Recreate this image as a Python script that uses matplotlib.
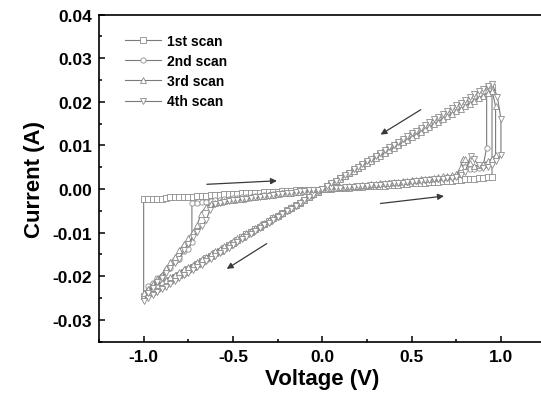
import matplotlib
matplotlib.use("Agg")
import matplotlib.pyplot as plt
from matplotlib.ticker import MultipleLocator, FormatStrFormatter

plt.rcParams['font.family'] = ['Liberation Sans', 'DejaVu Sans']
plt.rcParams['font.weight'] = 'bold'

# ---- shared voltage grids (V) ----
V_POS = [0.000, 0.025, 0.050, 0.075, 0.100, 0.125, 0.150, 0.175, 0.200, 0.225,
         0.250, 0.275, 0.300, 0.325, 0.350, 0.375, 0.400, 0.425, 0.450, 0.475,
         0.500, 0.525, 0.550, 0.575, 0.600, 0.625, 0.650, 0.675, 0.700, 0.725,
         0.750]
V_LRS = [0.900, 0.875, 0.850, 0.825, 0.800, 0.775, 0.750, 0.725, 0.700, 0.675,
         0.650, 0.625, 0.600, 0.575, 0.550, 0.525, 0.500, 0.475, 0.450, 0.425,
         0.400, 0.375, 0.350, 0.325, 0.300, 0.275, 0.250, 0.225, 0.200, 0.175,
         0.150, 0.125, 0.100, 0.075, 0.050, 0.025, 0.000,
         -0.025, -0.050, -0.075, -0.100, -0.125, -0.150, -0.175, -0.200, -0.225,
         -0.250, -0.275, -0.300, -0.325, -0.350, -0.375, -0.400, -0.425, -0.450,
         -0.475, -0.500, -0.525, -0.550, -0.575, -0.600, -0.625, -0.650, -0.675,
         -0.700, -0.725, -0.750, -0.775, -0.800, -0.825, -0.850, -0.875, -0.900,
         -0.925, -0.950, -0.975, -1.000]
V_NEG = [-0.550, -0.525, -0.500, -0.475, -0.450, -0.425, -0.400, -0.375, -0.350,
         -0.325, -0.300, -0.275, -0.250, -0.225, -0.200, -0.175, -0.150, -0.125,
         -0.100, -0.075, -0.050, -0.025, 0.000]

labels = ["1st scan", "2nd scan", "3rd scan", "4th scan"]

# ---- scan 1 ----
i_pos1 = [0.0000, 0.0001, 0.0001, 0.0002, 0.0002, 0.0003, 0.0003, 0.0004,
          0.0004, 0.0005, 0.0006, 0.0006, 0.0007, 0.0007, 0.0008, 0.0009,
          0.0010, 0.0010, 0.0011, 0.0012, 0.0013, 0.0013, 0.0014, 0.0015,
          0.0016, 0.0016, 0.0017, 0.0018, 0.0019, 0.0019, 0.0020]
set_v1 = [0.775, 0.800, 0.825, 0.850, 0.875, 0.900, 0.925, 0.950, 0.950, 0.925]
set_i1 = [0.0021, 0.0022, 0.0023, 0.0024, 0.0025, 0.0026, 0.0027, 0.0028,
          0.0233, 0.0227]
i_lrs1 = [0.0221, 0.0214, 0.0208, 0.0202, 0.0196, 0.0190, 0.0184, 0.0178,
          0.0172, 0.0165, 0.0159, 0.0153, 0.0147, 0.0141, 0.0135, 0.0129,
          0.0123, 0.0116, 0.0110, 0.0104, 0.0098, 0.0092, 0.0086, 0.0080,
          0.0074, 0.0067, 0.0061, 0.0055, 0.0049, 0.0043, 0.0037, 0.0031,
          0.0025, 0.0018, 0.0012, 0.0006, 0.0000,
          -0.0006, -0.0012, -0.0018, -0.0025, -0.0031, -0.0037, -0.0043,
          -0.0049, -0.0055, -0.0061, -0.0067, -0.0074, -0.0080, -0.0086,
          -0.0092, -0.0098, -0.0104, -0.0110, -0.0116, -0.0123, -0.0129,
          -0.0135, -0.0141, -0.0147, -0.0153, -0.0159, -0.0165, -0.0172,
          -0.0178, -0.0184, -0.0190, -0.0196, -0.0202, -0.0208, -0.0214,
          -0.0221, -0.0227, -0.0233, -0.0239, -0.0245]
reset_v1 = [-1.000, -0.975, -0.950, -0.925, -0.900, -0.875, -0.850, -0.825,
            -0.800, -0.775, -0.750, -0.725, -0.700, -0.675, -0.650, -0.625,
            -0.600, -0.575]
reset_i1 = [-0.0023, -0.0023, -0.0023, -0.0022, -0.0022, -0.0021, -0.0019,
            -0.0019, -0.0018, -0.0018, -0.0017, -0.0017, -0.0016, -0.0015,
            -0.0015, -0.0014, -0.0014, -0.0013]
i_neg1 = [-0.0012, -0.0012, -0.0011, -0.0011, -0.0010, -0.0010, -0.0009,
          -0.0009, -0.0008, -0.0007, -0.0007, -0.0006, -0.0006, -0.0005,
          -0.0004, -0.0004, -0.0003, -0.0003, -0.0002, -0.0002, -0.0001,
          -0.0001, 0.0000]

# ---- scan 2 ----
i_pos2 = [0.0000, 0.0001, 0.0002, 0.0003, 0.0003, 0.0004, 0.0005, 0.0006,
          0.0007, 0.0008, 0.0008, 0.0009, 0.0010, 0.0011, 0.0012, 0.0013,
          0.0014, 0.0015, 0.0016, 0.0017, 0.0018, 0.0019, 0.0020, 0.0021,
          0.0022, 0.0023, 0.0024, 0.0025, 0.0026, 0.0028, 0.0029]
set_v2 = [0.775, 0.790, 0.800, 0.825, 0.850, 0.875, 0.900, 0.920, 0.920, 0.930]
set_i2 = [0.0042, 0.0062, 0.0050, 0.0046, 0.0045, 0.0048, 0.0052, 0.0095,
          0.0222, 0.0236]
i_lrs2 = [0.0225, 0.0219, 0.0213, 0.0206, 0.0200, 0.0194, 0.0188, 0.0181,
          0.0175, 0.0169, 0.0163, 0.0156, 0.0150, 0.0144, 0.0138, 0.0131,
          0.0125, 0.0119, 0.0113, 0.0106, 0.0100, 0.0094, 0.0088, 0.0081,
          0.0075, 0.0069, 0.0063, 0.0056, 0.0050, 0.0044, 0.0038, 0.0031,
          0.0025, 0.0019, 0.0013, 0.0006, 0.0000,
          -0.0006, -0.0013, -0.0019, -0.0025, -0.0031, -0.0038, -0.0044,
          -0.0050, -0.0056, -0.0063, -0.0069, -0.0075, -0.0081, -0.0088,
          -0.0094, -0.0100, -0.0106, -0.0113, -0.0119, -0.0125, -0.0131,
          -0.0138, -0.0144, -0.0150, -0.0156, -0.0163, -0.0169, -0.0175,
          -0.0181, -0.0188, -0.0194, -0.0200, -0.0206, -0.0213, -0.0219,
          -0.0225, -0.0231, -0.0238, -0.0244, -0.0250]
reset_v2 = [-0.975, -0.950, -0.925, -0.900, -0.875, -0.850, -0.825, -0.800,
            -0.775, -0.750, -0.730, -0.730, -0.700, -0.675, -0.650, -0.625,
            -0.600, -0.575]
reset_i2 = [-0.0222, -0.0216, -0.0203, -0.0199, -0.0186, -0.0180, -0.0165,
            -0.0160, -0.0142, -0.0138, -0.0122, -0.0033, -0.0032, -0.0030,
            -0.0029, -0.0027, -0.0026, -0.0024]
i_neg2 = [-0.0023, -0.0022, -0.0021, -0.0020, -0.0019, -0.0018, -0.0017,
          -0.0016, -0.0015, -0.0014, -0.0013, -0.0012, -0.0011, -0.0010,
          -0.0009, -0.0008, -0.0007, -0.0006, -0.0005, -0.0004, -0.0003,
          -0.0001, 0.0000]

# ---- scan 3 ----
i_pos3 = [0.0000, 0.0001, 0.0002, 0.0003, 0.0004, 0.0005, 0.0006, 0.0007,
          0.0008, 0.0009, 0.0010, 0.0011, 0.0012, 0.0013, 0.0014, 0.0015,
          0.0016, 0.0017, 0.0018, 0.0019, 0.0020, 0.0021, 0.0022, 0.0023,
          0.0024, 0.0026, 0.0027, 0.0029, 0.0030, 0.0032, 0.0034]
set_v3 = [0.775, 0.785, 0.800, 0.825, 0.850, 0.875, 0.900, 0.925, 0.950,
          0.970, 0.970, 0.950, 0.925]
set_i3 = [0.0050, 0.0070, 0.0068, 0.0060, 0.0052, 0.0055, 0.0058, 0.0064,
          0.0070, 0.0079, 0.0190, 0.0226, 0.0220]
i_lrs3 = [0.0214, 0.0208, 0.0202, 0.0196, 0.0190, 0.0184, 0.0179, 0.0173,
          0.0167, 0.0161, 0.0155, 0.0149, 0.0143, 0.0137, 0.0131, 0.0125,
          0.0119, 0.0113, 0.0107, 0.0101, 0.0095, 0.0089, 0.0083, 0.0077,
          0.0071, 0.0065, 0.0060, 0.0054, 0.0048, 0.0042, 0.0036, 0.0030,
          0.0024, 0.0018, 0.0012, 0.0006, 0.0000,
          -0.0006, -0.0012, -0.0018, -0.0024, -0.0030, -0.0036, -0.0042,
          -0.0048, -0.0054, -0.0060, -0.0065, -0.0071, -0.0077, -0.0083,
          -0.0089, -0.0095, -0.0101, -0.0107, -0.0113, -0.0119, -0.0125,
          -0.0131, -0.0137, -0.0143, -0.0149, -0.0155, -0.0161, -0.0167,
          -0.0173, -0.0179, -0.0184, -0.0190, -0.0196, -0.0202, -0.0208,
          -0.0214, -0.0220, -0.0226, -0.0232, -0.0238]
reset_v3 = [-0.975, -0.950, -0.925, -0.900, -0.875, -0.850, -0.825, -0.800,
            -0.775, -0.750, -0.725, -0.700, -0.680, -0.650, -0.625, -0.600,
            -0.575]
reset_i3 = [-0.0228, -0.0218, -0.0206, -0.0196, -0.0182, -0.0168, -0.0155,
            -0.0140, -0.0125, -0.0112, -0.0098, -0.0083, -0.0056, -0.0040,
            -0.0035, -0.0031, -0.0029]
i_neg3 = [-0.0027, -0.0026, -0.0024, -0.0023, -0.0022, -0.0020, -0.0019,
          -0.0018, -0.0016, -0.0015, -0.0014, -0.0013, -0.0011, -0.0010,
          -0.0009, -0.0008, -0.0007, -0.0006, -0.0005, -0.0004, -0.0002,
          -0.0001, 0.0000]

# ---- scan 4 ----
i_pos4 = [0.0000, 0.0001, 0.0002, 0.0002, 0.0003, 0.0004, 0.0005, 0.0005,
          0.0006, 0.0007, 0.0008, 0.0009, 0.0009, 0.0010, 0.0011, 0.0012,
          0.0013, 0.0014, 0.0015, 0.0016, 0.0017, 0.0018, 0.0019, 0.0020,
          0.0021, 0.0022, 0.0023, 0.0024, 0.0025, 0.0026, 0.0028]
set_v4 = [0.775, 0.800, 0.830, 0.850, 0.875, 0.900, 0.925, 0.950, 0.975,
          1.000, 1.000, 0.980, 0.950, 0.925]
set_i4 = [0.0032, 0.0040, 0.0075, 0.0068, 0.0055, 0.0048, 0.0050, 0.0055,
          0.0065, 0.0078, 0.0160, 0.0212, 0.0242, 0.0236]
i_lrs4 = [0.0230, 0.0224, 0.0218, 0.0211, 0.0205, 0.0198, 0.0192, 0.0186,
          0.0179, 0.0173, 0.0166, 0.0160, 0.0154, 0.0147, 0.0141, 0.0134,
          0.0128, 0.0122, 0.0115, 0.0109, 0.0102, 0.0096, 0.0090, 0.0083,
          0.0077, 0.0070, 0.0064, 0.0058, 0.0051, 0.0045, 0.0038, 0.0032,
          0.0026, 0.0019, 0.0013, 0.0006, 0.0000,
          -0.0006, -0.0013, -0.0019, -0.0026, -0.0032, -0.0038, -0.0045,
          -0.0051, -0.0058, -0.0064, -0.0070, -0.0077, -0.0083, -0.0090,
          -0.0096, -0.0102, -0.0109, -0.0115, -0.0122, -0.0128, -0.0134,
          -0.0141, -0.0147, -0.0154, -0.0160, -0.0166, -0.0173, -0.0179,
          -0.0186, -0.0192, -0.0198, -0.0205, -0.0211, -0.0218, -0.0224,
          -0.0230, -0.0237, -0.0243, -0.0250, -0.0256]
reset_v4 = [-0.975, -0.950, -0.925, -0.900, -0.875, -0.850, -0.825, -0.800,
            -0.775, -0.750, -0.725, -0.700, -0.675, -0.650, -0.630, -0.600,
            -0.575]
reset_i4 = [-0.0238, -0.0226, -0.0212, -0.0203, -0.0192, -0.0182, -0.0170,
            -0.0160, -0.0140, -0.0125, -0.0110, -0.0098, -0.0085, -0.0072,
            -0.0048, -0.0034, -0.0031]
i_neg4 = [-0.0029, -0.0028, -0.0026, -0.0025, -0.0023, -0.0022, -0.0020,
          -0.0019, -0.0018, -0.0016, -0.0015, -0.0013, -0.0012, -0.0011,
          -0.0009, -0.0008, -0.0007, -0.0005, -0.0004, -0.0003, -0.0002,
          -0.0001, 0.0000]

scans = [
    (i_pos1, set_v1, set_i1, i_lrs1, reset_v1, reset_i1, i_neg1),
    (i_pos2, set_v2, set_i2, i_lrs2, reset_v2, reset_i2, i_neg2),
    (i_pos3, set_v3, set_i3, i_lrs3, reset_v3, reset_i3, i_neg3),
    (i_pos4, set_v4, set_i4, i_lrs4, reset_v4, reset_i4, i_neg4),
]
markers = ['s', 'o', '^', 'v']

fig = plt.figure(figsize=(5.41, 4.02), dpi=100)
ax = fig.add_axes([0.183, 0.1475, 0.8255, 0.8135])

for (ip, sv, si, il, rv, ri, ineg), lab, mk in zip(scans, labels, markers):
    v = V_POS + sv + V_LRS + rv + V_NEG
    i = ip + si + il + ri + ineg
    ax.plot(v, i, color='#7a7a7a', lw=0.8, marker=mk, ms=3.8,
            mfc='white', mec='#8c8c8c', mew=0.6, label=lab)

# direction arrows
arrow_kw = dict(arrowstyle='-|>', color='#3a3a3a', lw=0.9, mutation_scale=9,
                shrinkA=0, shrinkB=0)
ax.annotate('', xy=(-0.254, 0.0019), xytext=(-0.646, 0.0011), arrowprops=arrow_kw)
ax.annotate('', xy=(0.681, -0.0016), xytext=(0.326, -0.0033), arrowprops=arrow_kw)
ax.annotate('', xy=(0.326, 0.0125), xytext=(0.551, 0.0182), arrowprops=arrow_kw)
ax.annotate('', xy=(-0.535, -0.0183), xytext=(-0.311, -0.0125), arrowprops=arrow_kw)

ax.set_xlim(-1.25, 1.25)
ax.set_ylim(-0.035, 0.04)
ax.xaxis.set_major_locator(MultipleLocator(0.5))
ax.xaxis.set_minor_locator(MultipleLocator(0.25))
ax.yaxis.set_major_locator(MultipleLocator(0.01))
ax.yaxis.set_minor_locator(MultipleLocator(0.005))
ax.xaxis.set_major_formatter(FormatStrFormatter('%.1f'))
ax.yaxis.set_major_formatter(FormatStrFormatter('%.2f'))
ax.tick_params(which='both', direction='in', top=False, right=False, width=1.1)
ax.tick_params(which='major', length=4, labelsize=12.5, pad=5)
ax.tick_params(which='minor', length=2.2)
for lbl in ax.get_xticklabels() + ax.get_yticklabels():
    lbl.set_fontweight('bold')
for s in ax.spines.values():
    s.set_linewidth(1.2)

ax.set_xlabel('Voltage (V)', fontsize=16, fontweight='bold', labelpad=3)
ax.set_ylabel('Current (A)', fontsize=16, fontweight='bold', labelpad=5)

leg = ax.legend(loc='upper left', bbox_to_anchor=(0.03, 0.98), frameon=False,
                handlelength=2.6, labelspacing=0.45, handletextpad=0.4,
                prop={'weight': 'bold', 'size': 10})

fig.savefig('out.png', dpi=100)
